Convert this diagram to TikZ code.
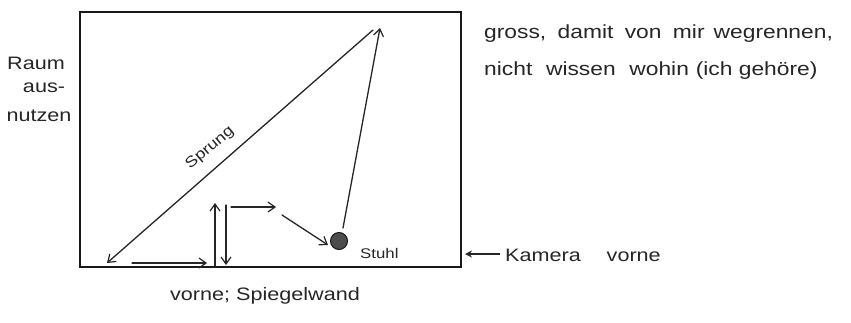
\documentclass[tikz,border=0pt]{standalone}
\usepackage{fontspec}
\setmainfont{Liberation Sans}
\usetikzlibrary{arrows.meta}
\newcommand{\hw}[2]{\scalebox{1.2}[1]{\fontsize{#1}{#1}\selectfont #2}}
\begin{document}
\begin{tikzpicture}[x=1pt,y=-1pt,
  pen/.style={draw=black!85, line width=1.3pt, line cap=round},
  tip/.style={-{Straight Barb[length=7pt,width=10pt,line width=1.2pt]}},
  hand/.style={inner sep=0pt, text=black!85},
  frame/.style={draw=black!90, line width=2.2pt}]
\useasboundingbox (0,0) rectangle (851,322);
\fill[white] (0,0) rectangle (851,322);
% room
\draw[frame] (80,12) rectangle (461,267);
% named points
\coordinate (jumpA) at (373,30);
\coordinate (jumpB) at (107,263);
\coordinate (botA) at (132,263);
\coordinate (botB) at (207,263);
\coordinate (upA) at (215,266);
\coordinate (upB) at (215,203);
\coordinate (corner) at (226,205);
\coordinate (downB) at (226,265);
\coordinate (rightA) at (231,207);
\coordinate (rightB) at (276,207);
\coordinate (diagA) at (282,215);
\coordinate (diagB) at (328,245);
\coordinate (stA) at (343,228);
\coordinate (stB) at (380,28);
% stool
\node[circle, minimum size=17pt, inner sep=0pt, fill=black!70, draw=black!90, line width=1pt] (stuhl) at (339,241) {};
% arrows
\draw[pen, tip] (jumpA) -- (jumpB);
\draw[pen, tip] (botA) -- (botB);
\draw[pen, tip] (upA) -- (upB);
\draw[pen, tip] (corner) -- (downB);
\draw[pen, tip] (rightA) -- (rightB);
\draw[pen, tip] (diagA) -- (diagB);
\draw[pen, tip] (stA) -- (stB);
% labels
\node[hand, rotate=40] (sprung) at (210,148) {\hw{15}{Sprung}};
\node[hand, anchor=west] (stuhllab) at (360,253) {\hw{14}{Stuhl}};
\node[hand] (raum) at (36,63) {\hw{18}{Raum}};
\node[hand] (aus) at (44,88) {\hw{18}{aus-}};
\node[hand] (nutzen) at (39,116) {\hw{18}{nutzen}};
\node[hand] (vorne) at (265,296) {\hw{18}{vorne; Spiegelwand}};
\node[hand, anchor=west] (gross) at (484,34) {\hw{19}{gross,\hspace{0.5em}damit\hspace{0.5em}von\hspace{0.5em}mir\hspace{0.4em}wegrennen,}};
\node[hand, anchor=west] (nicht) at (484,71) {\hw{19}{nicht\hspace{0.6em}wissen\hspace{0.6em}wohin\hspace{0.3em}(ich gehöre)}};
\node[hand, anchor=west] (kamera) at (505,255) {\hw{18}{Kamera\hspace{1.2em}vorne}};
\coordinate (camA) at (500,254);
\coordinate (camB) at (465,254);
\draw[line width=2pt, black!85, -{Stealth[length=7pt,width=7pt]}] (camA) -- (camB);
\end{tikzpicture}
\end{document}
